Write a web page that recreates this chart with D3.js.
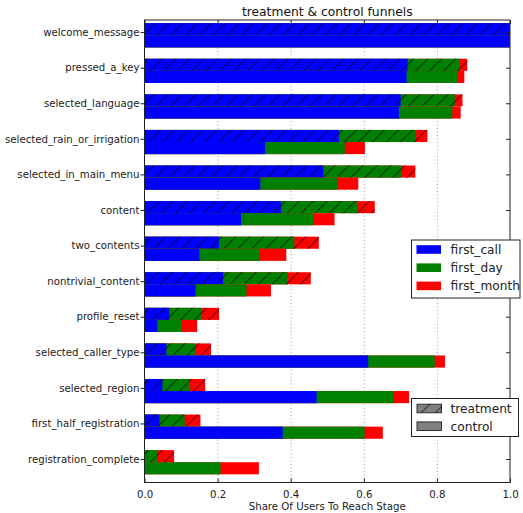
<!DOCTYPE html>
<html>
<head>
<meta charset="utf-8">
<script src="https://cdn.jsdelivr.net/npm/d3@7"></script>
<style>
  body { margin: 0; background: #fff; }
  svg { font-family: "DejaVu Sans", sans-serif; }
</style>
</head>
<body>
<div id="chart"></div>
<script>
// stages, top to bottom
const stages = [
  "welcome_message", "pressed_a_key", "selected_language", "selected_rain_or_irrigation",
  "selected_in_main_menu", "content", "two_contents", "nontrivial_content", "profile_reset",
  "selected_caller_type", "selected_region", "first_half_registration", "registration_complete"
];

// cumulative share of users reaching each stage
const treatmentCall  = [1.0, 0.720, 0.701, 0.532, 0.489, 0.373, 0.204, 0.215, 0.068, 0.060, 0.049, 0.041, 0.0];
const treatmentDay   = [1.0, 0.863, 0.849, 0.741, 0.702, 0.583, 0.410, 0.392, 0.155, 0.138, 0.122, 0.110, 0.037];
const treatmentMonth = [1.0, 0.883, 0.870, 0.774, 0.741, 0.630, 0.477, 0.455, 0.204, 0.182, 0.166, 0.153, 0.081];
const controlCall    = [1.0, 0.717, 0.696, 0.330, 0.317, 0.264, 0.150, 0.140, 0.035, 0.612, 0.471, 0.378, 0.0];
const controlDay     = [1.0, 0.855, 0.842, 0.548, 0.529, 0.462, 0.316, 0.279, 0.100, 0.794, 0.682, 0.602, 0.208];
const controlMonth   = [1.0, 0.875, 0.865, 0.603, 0.585, 0.520, 0.388, 0.346, 0.144, 0.822, 0.724, 0.652, 0.313];

const seriesNames = ["first_call", "first_day", "first_month"];
const groupNames = ["treatment", "control"];
const xTicks = [0, 0.2, 0.4, 0.6, 0.8, 1.0];

const colors = { first_call: "#0000ff", first_day: "#008000", first_month: "#ff0000" };

const W = 523, H = 513;
const margin = { top: 20, right: 13, bottom: 30.5, left: 144.5 };
const width = W - margin.left - margin.right;
const height = H - margin.top - margin.bottom;
const barH = 0.34;

const svg = d3.select('#chart').append('svg')
  .attr('width', W)
  .attr('height', H);

const defs = svg.append('defs');
const hatch = defs.append('pattern')
  .attr('id', 'hatch')
  .attr('patternUnits', 'userSpaceOnUse')
  .attr('width', 14)
  .attr('height', 14);
hatch.append('path')
  .attr('d', 'M-1,1 L1,-1 M0,14 L14,0 M13,15 L15,13')
  .attr('stroke', '#000')
  .attr('stroke-width', 0.9);

const g = svg.append('g')
  .attr('transform', `translate(${margin.left},${margin.top})`);

const x = d3.scaleLinear().domain([0, 1]).range([0, width]);
const y = d3.scaleLinear().domain([-0.43, 12.57]).range([0, height]);

// grid
g.append('g')
  .attr('class', 'grid')
  .attr('transform', `translate(0,${height})`)
  .call(d3.axisBottom(x).tickValues([0.2, 0.4, 0.6, 0.8]).tickSize(-height).tickFormat(''))
  .call(s => s.select('.domain').remove())
  .call(s => s.selectAll('line').attr('stroke', '#888').attr('stroke-dasharray', '1,2.5').attr('stroke-width', 0.8));

// bars
const groups = [
  { name: "treatment", offset: -barH, vals: [treatmentMonth, treatmentDay, treatmentCall] },
  { name: "control", offset: 0, vals: [controlMonth, controlDay, controlCall] }
];
const order = ["first_month", "first_day", "first_call"];

groups.forEach(grp => {
  grp.vals.forEach((arr, k) => {
    g.append('g').selectAll('rect')
      .data(arr)
      .join('rect')
      .attr('x', x(0))
      .attr('y', (d, i) => y(i + grp.offset))
      .attr('width', d => x(d) - x(0))
      .attr('height', y(barH) - y(0))
      .attr('fill', colors[order[k]]);
  });
  if (grp.name === "treatment") {
    g.append('g').selectAll('rect')
      .data(treatmentMonth)
      .join('rect')
      .attr('x', x(0))
      .attr('y', (d, i) => y(i + grp.offset))
      .attr('width', d => x(d) - x(0))
      .attr('height', y(barH) - y(0))
      .attr('fill', 'url(#hatch)');
  }
});

// axes
const fmt = d3.format('.1f');
const bottomAxis = g.append('g')
  .attr('transform', `translate(0,${height})`)
  .call(d3.axisBottom(x).tickValues(xTicks).tickFormat(fmt).tickSizeInner(-4).tickSizeOuter(0).tickPadding(8));
const topAxis = g.append('g')
  .call(d3.axisTop(x).tickValues(xTicks).tickFormat('').tickSizeInner(-4).tickSizeOuter(0));

const tickPos = stages.map((d, i) => i - 0.09);
const leftAxis = g.append('g')
  .call(d3.axisLeft(y).tickValues(tickPos).tickFormat((d, i) => stages[i]).tickSizeInner(4).tickSizeOuter(0).tickPadding(1));
const rightAxis = g.append('g')
  .attr('transform', `translate(${width},0)`)
  .call(d3.axisRight(y).tickValues(tickPos).tickFormat('').tickSizeInner(-4).tickSizeOuter(0));

[bottomAxis, topAxis, leftAxis, rightAxis].forEach(a => {
  a.select('.domain').remove();
  a.selectAll('line').attr('stroke', '#222');
  a.selectAll('text').attr('font-size', 10.2).attr('fill', '#222').attr('font-family', '"DejaVu Sans", sans-serif');
});

// frame
g.append('rect')
  .attr('width', width)
  .attr('height', height)
  .attr('fill', 'none')
  .attr('stroke', '#222')
  .attr('stroke-width', 1);

// title and label
svg.append('text')
  .attr('x', margin.left + width / 2)
  .attr('y', 16)
  .attr('text-anchor', 'middle')
  .attr('font-size', 12.3)
  .attr('fill', '#111')
  .text('treatment & control funnels');

svg.append('text')
  .attr('x', margin.left + width / 2)
  .attr('y', 510)
  .attr('text-anchor', 'middle')
  .attr('font-size', 10.2)
  .attr('fill', '#222')
  .text('Share Of Users To Reach Stage');

// legend: series
const leg1 = svg.append('g').attr('transform', 'translate(411.5,240)');
leg1.append('rect').attr('width', 108.5).attr('height', 58).attr('fill', '#fff').attr('stroke', '#222');
seriesNames.forEach((s, i) => {
  const row = leg1.append('g').attr('transform', `translate(0,${9.5 + i * 18.2})`);
  row.append('rect').attr('x', 5).attr('y', -4.3).attr('width', 24.5).attr('height', 8.6).attr('fill', colors[s]);
  row.append('text').attr('x', 39).attr('y', 0).attr('dy', '0.36em').attr('font-size', 12.2).attr('fill', '#222').text(s);
});

// legend: groups
const leg2 = svg.append('g').attr('transform', 'translate(411.5,398.5)');
leg2.append('rect').attr('width', 107).attr('height', 38).attr('fill', '#fff').attr('stroke', '#222');
groupNames.forEach((s, i) => {
  const row = leg2.append('g').attr('transform', `translate(0,${10 + i * 17.7})`);
  row.append('rect').attr('x', 5.5).attr('y', -4.3).attr('width', 24.5).attr('height', 8.6)
    .attr('fill', '#808080').attr('stroke', '#222').attr('stroke-width', 0.9);
  if (s === "treatment") {
    row.append('rect').attr('x', 5.5).attr('y', -4.3).attr('width', 24.5).attr('height', 8.6)
      .attr('fill', 'url(#hatch)');
  }
  row.append('text').attr('x', 39).attr('y', 0).attr('dy', '0.36em').attr('font-size', 12.2).attr('fill', '#222').text(s);
});
</script>
</body>
</html>
